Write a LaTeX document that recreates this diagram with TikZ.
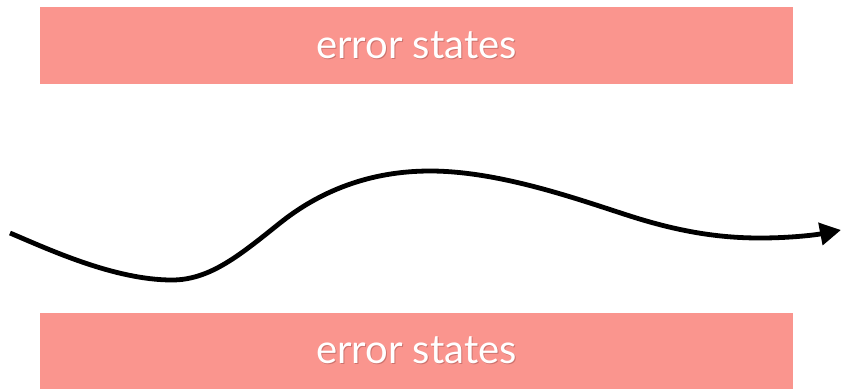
\documentclass[tikz,border=0pt]{standalone}
\usepackage{fontspec}
\setmainfont{Lato}
\usetikzlibrary{arrows.meta}
\definecolor{salmon}{RGB}{250,149,142}
\definecolor{shadowc}{RGB}{205,115,110}
\newcommand\shadowedtext[1]{\raisebox{-3pt}{\rlap{\raisebox{-1.3pt}{\hspace{1pt}\textcolor{shadowc}{#1}}}\textcolor{white}{#1}}}
\tikzset{
  errbox/.style={fill=salmon, draw=none, inner sep=0pt, minimum width=753pt, font=\fontsize{40}{46}\selectfont},
  path/.style={line width=4.8pt, -{Triangle[length=21pt,width=22pt]}}
}
\begin{document}
\begin{tikzpicture}[x=1pt,y=-1pt]
\useasboundingbox (0,0) rectangle (842,389);
\node[errbox, minimum height=77pt] (top) at (416.5,45.5) {\shadowedtext{error states}};
\node[errbox, minimum height=76pt] (bot) at (416.5,351) {\shadowedtext{error states}};
\coordinate (start) at (10,233);
\coordinate (end) at (841,230);
\draw[path] (start) .. controls (50,250) and (115,280) .. (172,280)
  .. controls (210,280) and (240,255) .. (280,223)
  .. controls (320,191) and (370,171) .. (430,171)
  .. controls (500,171) and (580,200) .. (630,216)
  .. controls (680,232) and (720,238) .. (760,238)
  .. controls (790,238) and (815,235) .. (end);
\end{tikzpicture}
\end{document}
